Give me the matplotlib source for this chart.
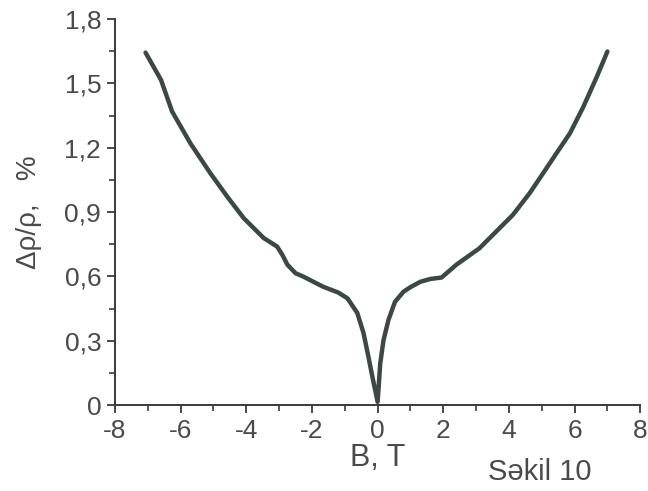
import matplotlib
matplotlib.use('Agg')
from matplotlib import pyplot as plt
from matplotlib.ticker import MultipleLocator

# values
b_field = [-7.07, -6.6, -6.26, -5.7, -5.09, -4.58, -4.08, -3.47, -3.06, -2.9, -2.75,
           -2.5, -2.26, -1.66, -1.2, -0.92, -0.62, -0.43, -0.28, -0.16, 0.0,
           0.08, 0.18, 0.33, 0.53, 0.79, 1.0, 1.3, 1.6, 1.95, 2.4, 3.1, 3.61, 4.12,
           4.63, 5.04, 5.45, 5.86, 6.27, 6.68, 7.0]
mr_percent = [1.644, 1.517, 1.369, 1.22, 1.08, 0.972, 0.872, 0.779, 0.739, 0.70, 0.655,
              0.615, 0.599, 0.552, 0.525, 0.498, 0.43, 0.336, 0.225, 0.132, 0.015,
              0.195, 0.303, 0.397, 0.482, 0.529, 0.55, 0.575, 0.588, 0.595, 0.655, 0.731, 0.809, 0.887,
              0.988, 1.081, 1.175, 1.268, 1.392, 1.532, 1.649]

x_ticks = [-8, -6, -4, -2, 0, 2, 4, 6, 8]
y_ticks = [0, 0.3, 0.6, 0.9, 1.2, 1.5, 1.8]
y_tick_labels = ['0', '0,3', '0,6', '0,9', '1,2', '1,5', '1,8']

TEXT = '#4a4a4a'
plt.rcParams['font.family'] = ['Liberation Sans', 'DejaVu Sans']
plt.rcParams['axes.unicode_minus'] = False

fig = plt.figure(figsize=(6.48, 4.91), dpi=100)
ax = fig.add_axes([0.1775, 0.175, 0.8105, 0.786])

ax.plot(b_field, mr_percent, color='#3b4845', lw=3.2, solid_capstyle='round',
        solid_joinstyle='round')

ax.set_xlim(-8, 8)
ax.set_ylim(0, 1.8)
ax.set_xticks(x_ticks)
ax.set_yticks(y_ticks)
ax.set_yticklabels(y_tick_labels)
ax.xaxis.set_minor_locator(MultipleLocator(1))
ax.yaxis.set_minor_locator(MultipleLocator(0.15))

for side in ['top', 'right']:
    ax.spines[side].set_visible(False)
for side in ['left', 'bottom']:
    ax.spines[side].set_color('#3a3a3a')
    ax.spines[side].set_linewidth(1.4)

ax.tick_params(which='major', direction='out', length=6, width=1.3, color='#3a3a3a',
               labelsize=19, labelcolor=TEXT, pad=4)
ax.tick_params(which='minor', direction='out', length=4, width=1.2, color='#3a3a3a')

ax.set_xlabel('B, T', fontsize=22, color=TEXT, labelpad=0)
ax.set_ylabel('\u0394\u03c1/\u03c1,   %', fontsize=20, color=TEXT, labelpad=16)
fig.text(0.753, 0.022, 'Səkil 10', fontsize=21, color=TEXT, va='baseline')

plt.savefig('out.png', dpi=100)
